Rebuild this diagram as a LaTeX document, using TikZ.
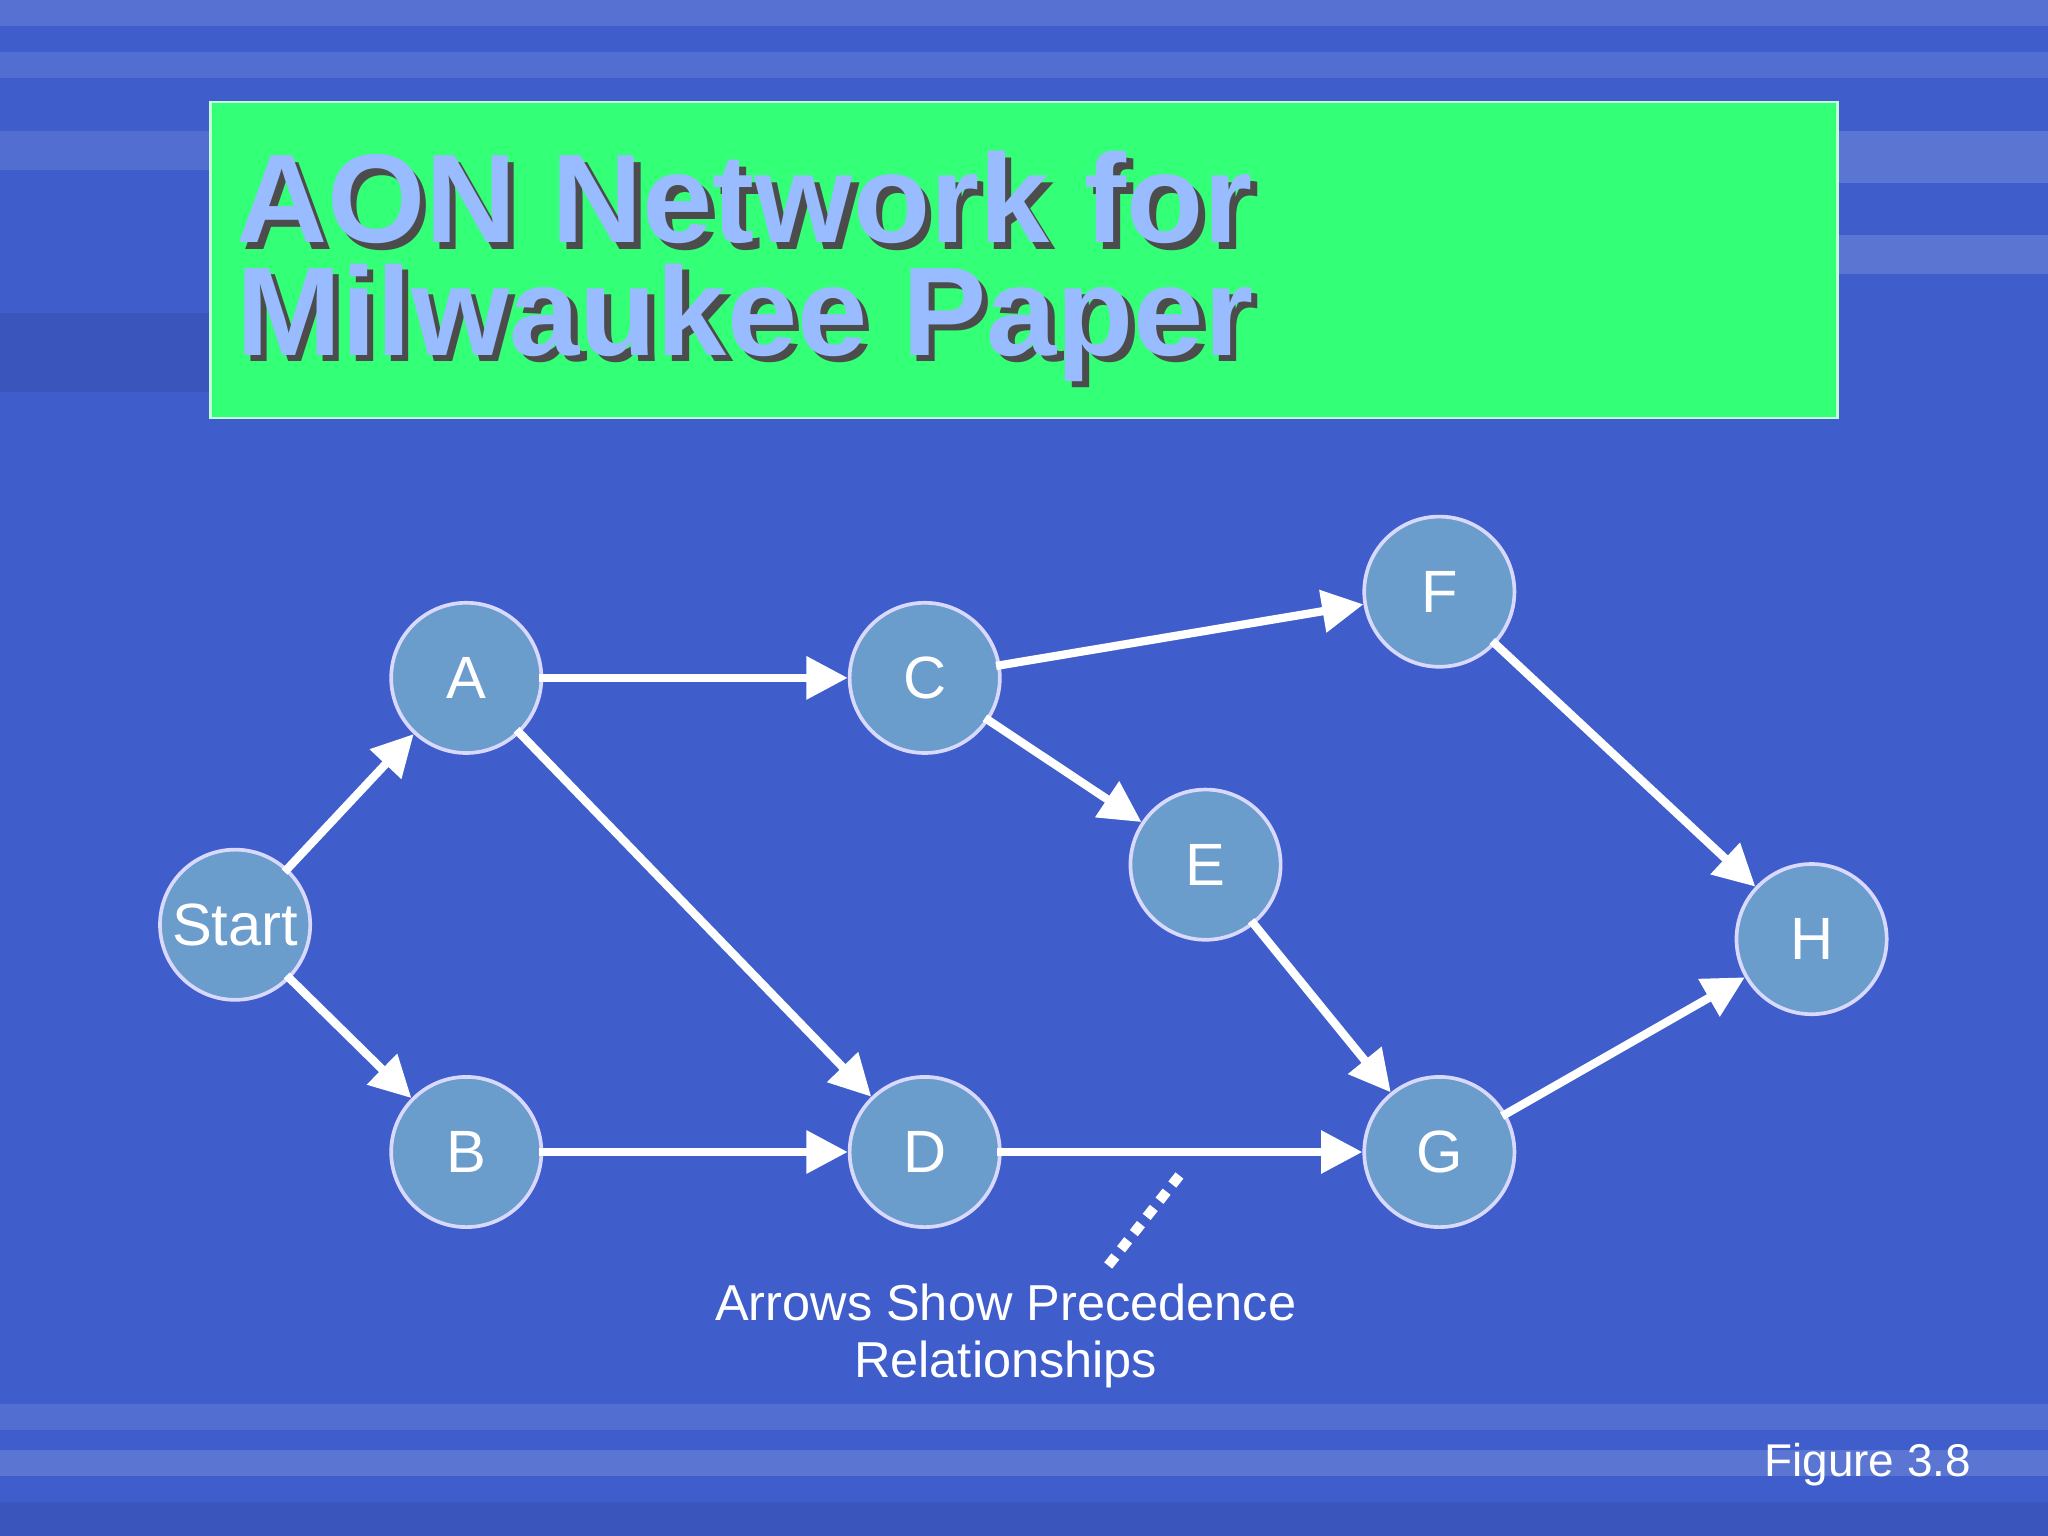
\documentclass[tikz,border=0pt]{standalone}
\usepackage{fontspec}
\setmainfont{Liberation Sans}
\usetikzlibrary{arrows.meta}
\definecolor{bg}{HTML}{3F5ECC}
\definecolor{nodefill}{HTML}{6A9CCC}
\definecolor{ttl}{HTML}{99BBFF}
\definecolor{grn}{HTML}{33FF77}
\begin{document}
\begin{tikzpicture}[x=0.1mm,y=-0.1mm,
  act/.style={circle,draw=white!85!blue,line width=0.8pt,fill=nodefill,minimum size=115*0.1mm,inner sep=0pt,text=white,font=\fontsize{13}{15}\selectfont},
  arr/.style={white,line width=1.8pt,-{Triangle[length=9pt,width=9pt]},shorten <=-1pt}]
\fill[bg] (0,0) rectangle (1568,1176);
\useasboundingbox (0,0) rectangle (1568,1176);
% streaks
\fill[white,opacity=0.12] (0,0) rectangle (1568,20);
\fill[white,opacity=0.10] (0,40) rectangle (1568,60);
\fill[white,opacity=0.15] (1300,100) rectangle (1568,140);
\fill[white,opacity=0.15] (1380,180) rectangle (1568,210);
\fill[black,opacity=0.08] (0,240) rectangle (400,300);
\fill[white,opacity=0.10] (0,100) rectangle (160,130);
\fill[white,opacity=0.10] (0,1075) rectangle (1568,1095);
\fill[white,opacity=0.15] (0,1110) rectangle (1568,1130);
\fill[black,opacity=0.08] (0,1150) rectangle (1568,1176);
% title
\fill[grn] (161,78) rectangle (1407,320);
\draw[white!70!grn,line width=0.6pt] (161,78) rectangle (1407,320);
\node[anchor=north west,align=left,font=\fontsize{27.5}{24.5}\selectfont\bfseries,text=black!70,inner sep=0pt] at (185,120) {AON Network for\\Milwaukee Paper};
\node[anchor=north west,align=left,font=\fontsize{27.5}{24.5}\selectfont\bfseries,text=ttl,inner sep=0pt] at (180,115) {AON Network for\\Milwaukee Paper};
% nodes
\node[act] (S) at (180,708) {Start};
\node[act] (A) at (357,519) {A};
\node[act] (B) at (357,882) {B};
\node[act] (C) at (708,519) {C};
\node[act] (D) at (708,882) {D};
\node[act] (E) at (923,662) {E};
\node[act] (F) at (1102,453) {F};
\node[act] (G) at (1102,882) {G};
\node[act] (H) at (1387,719) {H};
\draw[arr] (S) -- (A);
\draw[arr] (S) -- (B);
\draw[arr] (A) -- (C);
\draw[arr] (A) -- (D);
\draw[arr] (B) -- (D);
\draw[arr] (C) -- (F);
\draw[arr] (C) -- (E);
\draw[arr] (D) -- (G);
\draw[arr] (E) -- (G);
\draw[arr] (F) -- (H);
\draw[arr] (G) -- (H);
\coordinate (p1) at (903,900);
\coordinate (p2) at (846,972);
\draw[white,line width=2.2pt,dash pattern=on 2.5pt off 2pt] (p1) -- (p2);
\node[text=white,align=center,font=\fontsize{11}{12.5}\selectfont] (cap) at (770,1023) {Arrows Show Precedence\\Relationships};
\node[text=white,font=\fontsize{10}{12}\selectfont] (fig) at (1430,1121) {Figure 3.8};
\end{tikzpicture}
\end{document}
